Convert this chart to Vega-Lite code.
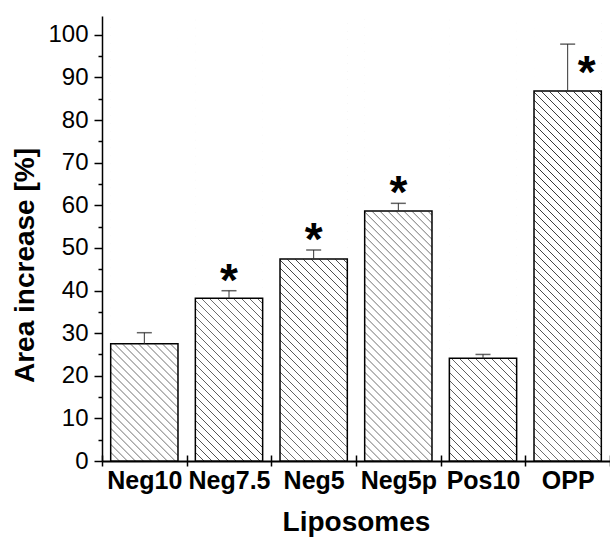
{
  "$schema": "https://vega.github.io/schema/vega-lite/v6.json",
  "width": 508,
  "height": 445,
  "autosize": "none",
  "padding": {"left": 102, "top": 16, "right": 0, "bottom": 79},
  "background": "white",
  "config": {
    "view": {"stroke": null},
    "axis": {"grid": false, "domainColor": "black", "tickColor": "black", "labelColor": "black", "titleColor": "black", "labelFont": "Liberation Sans", "titleFont": "Liberation Sans"},
    "text": {"font": "Liberation Sans"}
  },
  "data": {"values": [
    {"cat": "Neg10", "mean": 27.5, "upper": 30.1, "sig": false},
    {"cat": "Neg7.5", "mean": 38.2, "upper": 39.95, "sig": true},
    {"cat": "Neg5", "mean": 47.4, "upper": 49.5, "sig": true},
    {"cat": "Neg5p", "mean": 58.65, "upper": 60.45, "sig": true},
    {"cat": "Pos10", "mean": 24.1, "upper": 25.0, "sig": false},
    {"cat": "OPP", "mean": 86.8, "upper": 97.8, "sig": true}
  ]},
  "layer": [
    {
      "mark": {"type": "bar", "width": {"band": 0.795}, "stroke": null, "fill": {"gradient": "linear", "x1": 0, "y1": 1, "x2": 0.17049, "y2": -0.12563, "stops": [
        {"offset":0,"color":"#fff"},{"offset":0.0015,"color":"#333"},{"offset":0.003,"color":"#fff"},
        {"offset":0.015625,"color":"#fff"},{"offset":0.017125,"color":"#333"},{"offset":0.018625,"color":"#fff"},
        {"offset":0.03125,"color":"#fff"},{"offset":0.03275,"color":"#333"},{"offset":0.03425,"color":"#fff"},
        {"offset":0.046875,"color":"#fff"},{"offset":0.048375,"color":"#333"},{"offset":0.049875,"color":"#fff"},
        {"offset":0.0625,"color":"#fff"},{"offset":0.064,"color":"#333"},{"offset":0.0655,"color":"#fff"},
        {"offset":0.078125,"color":"#fff"},{"offset":0.079625,"color":"#333"},{"offset":0.081125,"color":"#fff"},
        {"offset":0.09375,"color":"#fff"},{"offset":0.09525,"color":"#333"},{"offset":0.09675,"color":"#fff"},
        {"offset":0.109375,"color":"#fff"},{"offset":0.110875,"color":"#333"},{"offset":0.112375,"color":"#fff"},
        {"offset":0.125,"color":"#fff"},{"offset":0.1265,"color":"#333"},{"offset":0.128,"color":"#fff"},
        {"offset":0.140625,"color":"#fff"},{"offset":0.142125,"color":"#333"},{"offset":0.143625,"color":"#fff"},
        {"offset":0.15625,"color":"#fff"},{"offset":0.15775,"color":"#333"},{"offset":0.15925,"color":"#fff"},
        {"offset":0.171875,"color":"#fff"},{"offset":0.173375,"color":"#333"},{"offset":0.174875,"color":"#fff"},
        {"offset":0.1875,"color":"#fff"},{"offset":0.189,"color":"#333"},{"offset":0.1905,"color":"#fff"},
        {"offset":0.203125,"color":"#fff"},{"offset":0.204625,"color":"#333"},{"offset":0.206125,"color":"#fff"},
        {"offset":0.21875,"color":"#fff"},{"offset":0.22025,"color":"#333"},{"offset":0.22175,"color":"#fff"},
        {"offset":0.234375,"color":"#fff"},{"offset":0.235875,"color":"#333"},{"offset":0.237375,"color":"#fff"},
        {"offset":0.25,"color":"#fff"},{"offset":0.2515,"color":"#333"},{"offset":0.253,"color":"#fff"},
        {"offset":0.265625,"color":"#fff"},{"offset":0.267125,"color":"#333"},{"offset":0.268625,"color":"#fff"},
        {"offset":0.28125,"color":"#fff"},{"offset":0.28275,"color":"#333"},{"offset":0.28425,"color":"#fff"},
        {"offset":0.296875,"color":"#fff"},{"offset":0.298375,"color":"#333"},{"offset":0.299875,"color":"#fff"},
        {"offset":0.3125,"color":"#fff"},{"offset":0.314,"color":"#333"},{"offset":0.3155,"color":"#fff"},
        {"offset":0.328125,"color":"#fff"},{"offset":0.329625,"color":"#333"},{"offset":0.331125,"color":"#fff"},
        {"offset":0.34375,"color":"#fff"},{"offset":0.34525,"color":"#333"},{"offset":0.34675,"color":"#fff"},
        {"offset":0.359375,"color":"#fff"},{"offset":0.360875,"color":"#333"},{"offset":0.362375,"color":"#fff"},
        {"offset":0.375,"color":"#fff"},{"offset":0.3765,"color":"#333"},{"offset":0.378,"color":"#fff"},
        {"offset":0.390625,"color":"#fff"},{"offset":0.392125,"color":"#333"},{"offset":0.393625,"color":"#fff"},
        {"offset":0.40625,"color":"#fff"},{"offset":0.40775,"color":"#333"},{"offset":0.40925,"color":"#fff"},
        {"offset":0.421875,"color":"#fff"},{"offset":0.423375,"color":"#333"},{"offset":0.424875,"color":"#fff"},
        {"offset":0.4375,"color":"#fff"},{"offset":0.439,"color":"#333"},{"offset":0.4405,"color":"#fff"},
        {"offset":0.453125,"color":"#fff"},{"offset":0.454625,"color":"#333"},{"offset":0.456125,"color":"#fff"},
        {"offset":0.46875,"color":"#fff"},{"offset":0.47025,"color":"#333"},{"offset":0.47175,"color":"#fff"},
        {"offset":0.484375,"color":"#fff"},{"offset":0.485875,"color":"#333"},{"offset":0.487375,"color":"#fff"},
        {"offset":0.5,"color":"#fff"},{"offset":0.5015,"color":"#333"},{"offset":0.503,"color":"#fff"},
        {"offset":0.515625,"color":"#fff"},{"offset":0.517125,"color":"#333"},{"offset":0.518625,"color":"#fff"},
        {"offset":0.53125,"color":"#fff"},{"offset":0.53275,"color":"#333"},{"offset":0.53425,"color":"#fff"},
        {"offset":0.546875,"color":"#fff"},{"offset":0.548375,"color":"#333"},{"offset":0.549875,"color":"#fff"},
        {"offset":0.5625,"color":"#fff"},{"offset":0.564,"color":"#333"},{"offset":0.5655,"color":"#fff"},
        {"offset":0.578125,"color":"#fff"},{"offset":0.579625,"color":"#333"},{"offset":0.581125,"color":"#fff"},
        {"offset":0.59375,"color":"#fff"},{"offset":0.59525,"color":"#333"},{"offset":0.59675,"color":"#fff"},
        {"offset":0.609375,"color":"#fff"},{"offset":0.610875,"color":"#333"},{"offset":0.612375,"color":"#fff"},
        {"offset":0.625,"color":"#fff"},{"offset":0.6265,"color":"#333"},{"offset":0.628,"color":"#fff"},
        {"offset":0.640625,"color":"#fff"},{"offset":0.642125,"color":"#333"},{"offset":0.643625,"color":"#fff"},
        {"offset":0.65625,"color":"#fff"},{"offset":0.65775,"color":"#333"},{"offset":0.65925,"color":"#fff"},
        {"offset":0.671875,"color":"#fff"},{"offset":0.673375,"color":"#333"},{"offset":0.674875,"color":"#fff"},
        {"offset":0.6875,"color":"#fff"},{"offset":0.689,"color":"#333"},{"offset":0.6905,"color":"#fff"},
        {"offset":0.703125,"color":"#fff"},{"offset":0.704625,"color":"#333"},{"offset":0.706125,"color":"#fff"},
        {"offset":0.71875,"color":"#fff"},{"offset":0.72025,"color":"#333"},{"offset":0.72175,"color":"#fff"},
        {"offset":0.734375,"color":"#fff"},{"offset":0.735875,"color":"#333"},{"offset":0.737375,"color":"#fff"},
        {"offset":0.75,"color":"#fff"},{"offset":0.7515,"color":"#333"},{"offset":0.753,"color":"#fff"},
        {"offset":0.765625,"color":"#fff"},{"offset":0.767125,"color":"#333"},{"offset":0.768625,"color":"#fff"},
        {"offset":0.78125,"color":"#fff"},{"offset":0.78275,"color":"#333"},{"offset":0.78425,"color":"#fff"},
        {"offset":0.796875,"color":"#fff"},{"offset":0.798375,"color":"#333"},{"offset":0.799875,"color":"#fff"},
        {"offset":0.8125,"color":"#fff"},{"offset":0.814,"color":"#333"},{"offset":0.8155,"color":"#fff"},
        {"offset":0.828125,"color":"#fff"},{"offset":0.829625,"color":"#333"},{"offset":0.831125,"color":"#fff"},
        {"offset":0.84375,"color":"#fff"},{"offset":0.84525,"color":"#333"},{"offset":0.84675,"color":"#fff"},
        {"offset":0.859375,"color":"#fff"},{"offset":0.860875,"color":"#333"},{"offset":0.862375,"color":"#fff"},
        {"offset":0.875,"color":"#fff"},{"offset":0.8765,"color":"#333"},{"offset":0.878,"color":"#fff"},
        {"offset":0.890625,"color":"#fff"},{"offset":0.892125,"color":"#333"},{"offset":0.893625,"color":"#fff"},
        {"offset":0.90625,"color":"#fff"},{"offset":0.90775,"color":"#333"},{"offset":0.90925,"color":"#fff"},
        {"offset":0.921875,"color":"#fff"},{"offset":0.923375,"color":"#333"},{"offset":0.924875,"color":"#fff"},
        {"offset":0.9375,"color":"#fff"},{"offset":0.939,"color":"#333"},{"offset":0.9405,"color":"#fff"},
        {"offset":0.953125,"color":"#fff"},{"offset":0.954625,"color":"#333"},{"offset":0.956125,"color":"#fff"},
        {"offset":0.96875,"color":"#fff"},{"offset":0.97025,"color":"#333"},{"offset":0.97175,"color":"#fff"},
        {"offset":0.984375,"color":"#fff"},{"offset":0.985875,"color":"#333"},{"offset":0.987375,"color":"#fff"},
        {"offset":1,"color":"#fff"}
      ]}},
      "encoding": {
        "x": {"field": "cat", "type": "nominal", "sort": null, "scale": {"paddingInner": 0, "paddingOuter": 0},
          "axis": {"title": "Liposomes", "labelAngle": 0, "labelFontSize": 25, "labelFontWeight": "bold", "labelOverlap": false, "titleFontSize": 28, "titleFontWeight": "bold", "tickBand": "extent", "tickSize": 5, "tickWidth": 1.5, "domainWidth": 2, "labelPadding": 2, "titlePadding": 15}},
        "y": {"datum": 104.4, "type": "quantitative", "scale": {"domain": [0, 104.4], "nice": false},
          "axis": {"title": "Area increase [%]", "titleY": 249, "values": [0, 10, 20, 30, 40, 50, 60, 70, 80, 90, 100], "labelFontSize": 24, "labelFlush": false, "labelOverlap": false, "titleFontSize": 28, "titleFontWeight": "bold", "tickSize": 8, "tickWidth": 1.5, "domainWidth": 1.5, "labelPadding": 6, "titlePadding": 8}},
        "y2": {"datum": 0}
      }
    },
    {
      "mark": {"type": "bar", "width": {"band": 0.795}, "fill": "white", "stroke": "white", "strokeWidth": 1},
      "encoding": {
        "x": {"field": "cat", "type": "nominal", "sort": null, "axis": null},
        "y": {"field": "mean", "type": "quantitative", "axis": null},
        "y2": {"datum": 104.4}
      }
    },
    {
      "mark": {"type": "bar", "width": {"band": 0.795}, "filled": false, "stroke": "black", "strokeWidth": 1.5},
      "encoding": {
        "x": {"field": "cat", "type": "nominal", "sort": null,
          "axis": {"orient": "bottom", "labels": false, "title": null, "domain": false, "tickBand": "extent", "tickSize": -6, "tickWidth": 1.5}},
        "y": {"field": "mean", "type": "quantitative",
          "axis": {"orient": "left", "values": [5, 15, 25, 35, 45, 55, 65, 75, 85, 95], "labels": false, "title": null, "domain": false, "tickSize": 4, "tickWidth": 1.5}}
      }
    },
    {
      "mark": {"type": "rule", "color": "#333", "strokeWidth": 1},
      "encoding": {
        "x": {"field": "cat", "type": "nominal", "sort": null, "axis": null},
        "y": {"field": "mean", "type": "quantitative", "axis": null},
        "y2": {"field": "upper"}
      }
    },
    {
      "mark": {"type": "tick", "orient": "horizontal", "color": "#222", "size": 15, "thickness": 1.5},
      "encoding": {
        "x": {"field": "cat", "type": "nominal", "sort": null, "axis": null},
        "y": {"field": "upper", "type": "quantitative", "axis": null}
      }
    },
    {
      "transform": [{"filter": "datum.sig && datum.cat != 'OPP'"}],
      "mark": {"type": "text", "text": "*", "fontSize": 46, "fontWeight": "bold", "color": "black", "baseline": "alphabetic", "align": "center", "dy": 5},
      "encoding": {
        "x": {"field": "cat", "type": "nominal", "sort": null, "axis": null},
        "y": {"field": "upper", "type": "quantitative", "axis": null}
      }
    },
    {
      "transform": [{"filter": "datum.cat == 'OPP'"}],
      "mark": {"type": "text", "text": "*", "fontSize": 46, "fontWeight": "bold", "color": "black", "baseline": "alphabetic", "align": "center", "dx": 19, "dy": -3},
      "encoding": {
        "x": {"field": "cat", "type": "nominal", "sort": null, "axis": null},
        "y": {"field": "mean", "type": "quantitative", "axis": null}
      }
    }
  ],
  "resolve": {"axis": {"x": "independent", "y": "independent"}}
}
